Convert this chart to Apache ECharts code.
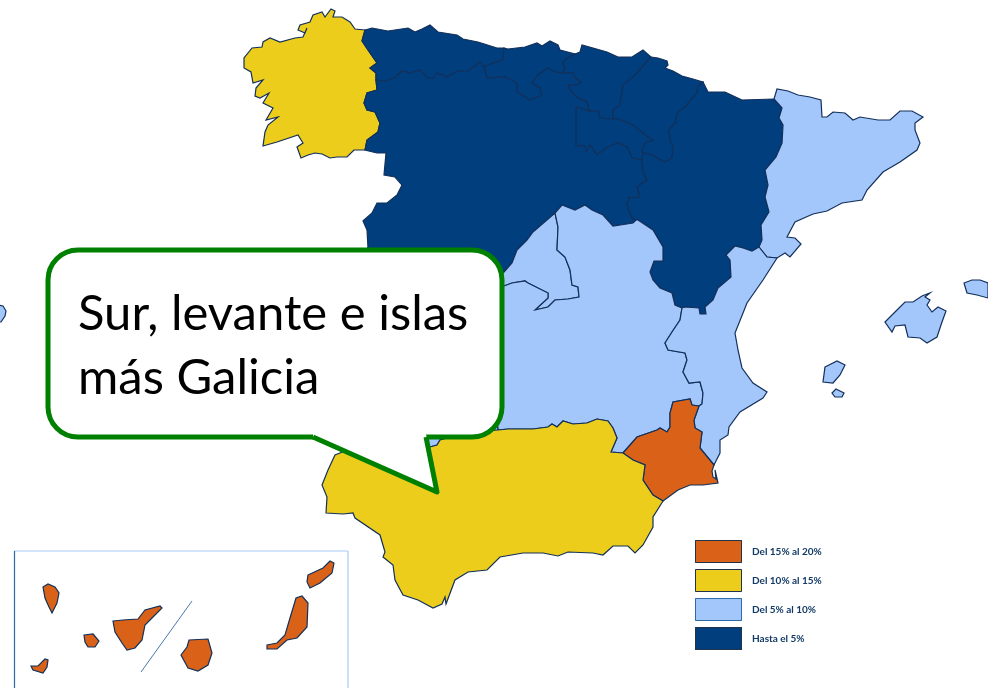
<!DOCTYPE html>
<html>
<head>
<meta charset="utf-8">
<style>
html,body{margin:0;padding:0;background:#fff}
#main{width:988px;height:688px}
</style>
<script src="https://cdn.jsdelivr.net/npm/echarts@6/dist/echarts.min.js"></script>
</head>
<body>
<div id="main"></div>
<script>
// tramos de rango y valor de cada comunidad
const bandLabels = ['Del 15% al 20%', 'Del 10% al 15%', 'Del 5% al 10%', 'Hasta el 5%'];
const bandValues = [4, 3, 2, 1];
const bandColors = ['#d96218', '#edcd1c', '#a3c6fb', '#003e7e'];
const regionNames = ['Galicia', 'Asturias', 'Cantabria', 'País Vasco', 'Navarra', 'La Rioja', 'Castilla y León', 'Aragón', 'Cataluña', 'Madrid', 'Castilla-La Mancha', 'Extremadura', 'C. Valenciana', 'Murcia', 'Andalucía', 'Baleares', 'Canarias', 'Otros'];
const regionBands = [3, 1, 1, 1, 1, 1, 1, 1, 2, 2, 2, 2, 2, 4, 3, 2, 4, 2];
const calloutLines = ['Sur, levante e islas', 'más Galicia'];

// contornos del mapa (tramos compartidos entre comunidades)
const galCoast = [[365,30],[355,29],[350,22],[342,17],[333,17],[335,11],[331,9],[325,17],[322,12],[313,15],[310,22],[300,25],[298,30],[305,33],[307,28],[303,37],[295,38],[280,42],[270,38],[263,42],[262,47],[252,48],[244,58],[244,68],[251,72],[253,83],[263,80],[256,88],[255,96],[260,98],[269,93],[263,103],[273,108],[266,120],[278,117],[268,125],[265,132],[263,146],[277,142],[298,135],[303,143],[297,147],[301,158],[308,155],[315,153],[322,154],[330,158],[337,157],[347,157],[354,150],[365,150]];
const galCyl = [[365,150],[367,140],[378,132],[380,123],[375,112],[367,110],[364,103],[367,93],[377,90],[376,80]];
const galAst = [[376,80],[376,73],[370,68],[377,63],[368,50],[362,41],[365,30]];
const astCoast = [[365,30],[372,28],[388,31],[408,28],[415,32],[422,29],[430,25],[438,32],[457,35],[463,39],[478,42],[497,48],[504,48]];
const astCan = [[504,48],[503,60],[490,64],[484,67]];
const astCyl = [[376,80],[385,81],[395,78],[402,71],[410,73],[420,70],[427,78],[433,78],[437,73],[447,77],[457,71],[467,72],[480,62],[484,67]];
const canCoast = [[504,48],[508,49],[525,47],[537,43],[542,46],[550,41],[558,45],[560,50],[575,54]];
const canPv = [[575,54],[565,60],[563,63],[565,67],[563,73]];
const canCyl = [[484,67],[487,78],[505,77],[517,83],[517,92],[530,100],[542,95],[540,88],[532,83],[538,75],[548,68],[555,72],[563,73]];
const pvCoast = [[575,54],[580,52],[582,45],[593,48],[607,52],[618,57],[632,57],[643,50],[651,57]];
const pvNav = [[651,57],[635,75],[623,85],[620,105],[613,110],[613,119]];
const pvCyl = [[563,73],[573,73],[575,78],[581,82],[577,85],[568,85],[570,90],[578,98],[587,102],[589,111]];
const pvRio = [[589,111],[598,111],[600,118],[613,119]];
const navCoast = [[651,57],[658,58],[667,61],[668,65],[665,68],[673,71],[682,76],[693,79],[703,82]];
const navAra = [[703,82],[698,87],[697,93],[685,107],[677,113],[676,122],[669,130],[670,140],[673,147],[672,158],[665,162],[657,158],[653,155],[643,153]];
const rioNav = [[613,119],[618,119],[633,125],[645,135],[653,140],[645,143],[642,150],[643,153]];
const rioAra = [[643,153],[642,160]];
const rioCyl = [[642,160],[632,158],[627,147],[618,143],[608,147],[597,155],[590,145],[586,152],[585,146],[576,146],[576,107],[578,107],[589,111]];
const cylAra = [[642,160],[643,172],[647,180],[637,187],[640,197],[629,198],[627,205],[632,218],[636,220]];
const cylClm = [[636,220],[633,223],[613,226],[603,215],[592,210],[585,205],[575,210],[562,205],[555,213]];
const cylMad = [[555,213],[533,232],[527,240],[517,250],[512,263],[504,272],[490,285]];
const cylExt = [[490,285],[470,275],[420,262],[385,262],[368,248]];
const cylWest = [[368,248],[367,230],[363,221],[372,213],[377,203],[387,203],[397,195],[402,185],[395,177],[384,175],[386,153],[377,153],[365,150]];
const madClm = [[555,213],[558,227],[557,250],[565,257],[570,270],[572,285],[578,287],[579,297],[568,299],[555,300],[548,307],[535,310],[548,298],[548,293],[528,283],[525,281],[512,283],[504,286],[490,285]];
const extClm = [[490,285],[488,350],[498,430]];
const extAnd = [[498,430],[470,432],[440,440],[437,445],[430,447]];
const extWest = [[430,447],[400,437],[380,400],[375,300],[368,248]];
const andWest = [[430,447],[400,452],[345,451],[335,455]];
const clmAnd = [[498,430],[508,429],[533,429],[548,427],[552,424],[557,427],[563,421],[573,424],[587,423],[597,419],[608,421],[613,428],[617,438],[611,452],[623,453]];
const clmMur = [[623,453],[637,437],[657,430],[660,428],[667,432],[670,427],[670,413],[673,402],[690,399],[692,405],[699,406]];
const clmVal = [[682,308],[680,320],[672,332],[665,343],[668,350],[685,353],[687,360],[683,372],[689,383],[700,382],[703,393],[702,404],[699,406]];
const araClm = [[636,220],[638,220],[653,230],[663,247],[663,261],[654,261],[650,272],[653,280],[660,288],[672,293],[675,305],[682,308]];
const araNorth = [[703,82],[708,92],[725,92],[742,100],[774,99]];
const araCat = [[774,99],[782,108],[779,118],[783,125],[782,143],[776,157],[765,170],[768,185],[765,197],[769,212],[761,225],[762,240],[759,247]];
const araVal = [[759,247],[752,251],[743,248],[735,246],[726,255],[730,260],[731,277],[718,288],[713,300],[705,307],[706,314],[700,314],[699,308],[685,307],[682,308]];
const catCoast = [[774,99],[777,89],[788,91],[798,95],[810,97],[821,100],[822,117],[827,117],[833,112],[845,113],[853,120],[860,117],[878,120],[890,120],[900,111],[912,111],[923,117],[915,123],[915,130],[920,143],[917,150],[900,162],[883,172],[867,190],[862,200],[842,203],[827,211],[813,214],[795,222],[787,237],[795,238],[801,244],[790,257],[785,253],[777,258]];
const catVal = [[777,258],[767,257],[759,247]];
const valCoast = [[777,258],[763,280],[747,303],[735,333],[738,350],[742,368],[753,383],[767,392],[763,398],[740,412],[729,427],[728,435],[720,440],[720,453],[714,465]];
const valMur = [[699,406],[694,420],[695,428],[702,432],[700,448],[714,465]];
const murCoast = [[714,465],[712,471],[713,477],[716,479],[715,470],[718,483],[703,485],[690,485],[678,490],[663,501]];
const murAnd = [[663,501],[653,495],[643,480],[645,465],[633,460],[623,453]];
const andCoast = [[663,501],[653,517],[653,527],[643,545],[635,553],[628,546],[613,546],[603,555],[593,553],[568,552],[558,556],[543,553],[523,553],[500,557],[487,570],[468,572],[455,580],[446,604],[445,597],[442,604],[433,608],[418,600],[403,595],[395,580],[393,565],[383,557],[385,552],[380,535],[355,518],[353,513],[343,514],[326,513],[327,497],[322,485],[328,470],[335,455]];
const mallorca = [[885,322],[895,312],[905,302],[913,302],[922,296],[930,293],[925,297],[930,300],[927,305],[932,312],[938,307],[946,311],[942,322],[937,337],[927,343],[920,338],[908,337],[905,325],[895,326],[892,332]];
const menorca = [[964,283],[972,280],[980,280],[988,283],[988,298],[977,295],[967,293]];
const ibiza = [[825,367],[837,361],[845,365],[840,375],[833,383],[823,382]];
const formentera = [[832,393],[836,389],[844,393],[842,397],[835,397]];
const laPalma = [[43,587],[48,584],[55,587],[59,593],[57,603],[52,613],[49,607],[45,598]];
const elHierro = [[31,666],[38,666],[45,659],[48,660],[47,667],[43,673],[33,670]];
const laGomera = [[84,635],[93,634],[99,641],[95,647],[88,647],[85,642]];
const tenerife = [[113,621],[123,620],[138,619],[145,610],[160,606],[162,608],[153,617],[145,625],[142,640],[135,648],[127,650],[122,643],[115,632]];
const granCanaria = [[189,640],[208,639],[212,653],[208,665],[198,671],[188,668],[181,655],[187,647]];
const fuerteventura = [[267,645],[277,643],[285,635],[290,618],[296,598],[302,596],[308,603],[307,627],[297,638],[287,640],[277,649],[267,649]];
const lanzarote = [[308,575],[323,568],[330,561],[334,563],[332,573],[320,583],[310,588],[307,582]];
const bordeIzq = [[-2,305],[3,306],[6,311],[5,316],[1,322],[-2,322]];

function rev(a) { return a.slice().reverse(); }
function ring() {
    let out = [];
    for (let i = 0; i < arguments.length; i++) {
        out = out.concat(arguments[i]);
    }
    out.push(out[0]);
    return out;
}
function closed(a) { return a.concat([a[0]]); }

const shapes = {
    'Galicia': [ring(galCoast, galCyl, galAst)],
    'Asturias': [ring(astCoast, astCan, rev(astCyl), galAst)],
    'Cantabria': [ring(canCoast, canPv, rev(canCyl), rev(astCan))],
    'País Vasco': [ring(pvCoast, pvNav, rev(pvRio), rev(pvCyl), rev(canPv))],
    'Navarra': [ring(navCoast, navAra, rev(rioNav), rev(pvNav))],
    'La Rioja': [ring(pvRio, rioNav, rioAra, rioCyl)],
    'Castilla y León': [ring(galCyl, astCyl, canCyl, pvCyl, rev(rioCyl), cylAra, cylClm, cylMad, cylExt, cylWest)],
    'Aragón': [ring(araNorth, araCat, araVal, rev(araClm), rev(cylAra), rev(rioAra), rev(navAra))],
    'Cataluña': [ring(catCoast, catVal, rev(araCat))],
    'Madrid': [ring(madClm, rev(cylMad))],
    'Castilla-La Mancha': [ring(cylClm, madClm, extClm, clmAnd, clmMur, rev(clmVal), rev(araClm))],
    'Extremadura': [ring(rev(cylExt), extClm, extAnd, extWest)],
    'C. Valenciana': [ring(rev(catVal), valCoast, rev(valMur), rev(clmVal), rev(araVal))],
    'Murcia': [ring(clmMur, valMur, murCoast, murAnd)],
    'Andalucía': [ring(clmAnd, rev(murAnd), andCoast, rev(andWest), rev(extAnd))],
    'Baleares': [closed(mallorca), closed(menorca), closed(ibiza), closed(formentera)],
    'Canarias': [closed(laPalma), closed(elHierro), closed(laGomera), closed(tenerife), closed(granCanaria), closed(fuerteventura), closed(lanzarote)],
    'Otros': [closed(bordeIzq)]
};

const espana = {
    type: 'FeatureCollection',
    features: regionNames.map(function (name) {
        return {
            type: 'Feature',
            properties: { name: name },
            geometry: { type: 'MultiPolygon', coordinates: shapes[name].map(function (r) { return [r]; }) }
        };
    })
};
echarts.registerMap('espana', espana);

const myChart = echarts.init(document.getElementById('main'));

// marcos de la leyenda, encima de los cuadros del visualMap
const swatchFrames = bandLabels.map(function (label, i) {
    return {
        type: 'rect',
        z: 10,
        shape: { x: 695.5, y: 540.5 + i * 29, width: 46, height: 22 },
        style: { fill: 'none', stroke: i === 2 ? '#2f6aa8' : '#22324a', lineWidth: 1 }
    };
});

const option = {
    animation: false,
    backgroundColor: '#fff',
    visualMap: {
        type: 'piecewise',
        left: 695,
        top: 540,
        padding: 0,
        orient: 'vertical',
        align: 'left',
        itemWidth: 47,
        itemHeight: 23,
        itemGap: 6,
        textGap: 10,
        itemSymbol: 'rect',
        selectedMode: false,
        hoverLink: false,
        pieces: bandValues.map(function (v, i) {
            return { value: v, label: bandLabels[i], color: bandColors[i] };
        }),
        textStyle: { color: '#123a66', fontSize: 10, fontWeight: 'bold', fontFamily: 'Lato' }
    },
    series: [
        {
            type: 'map',
            map: 'espana',
            silent: true,
            roam: false,
            aspectScale: 1,
            left: 0,
            top: 0,
            width: 988,
            height: 688,
            boundingCoords: [[0, 0], [988, 688]],
            projection: {
                project: function (p) { return p; },
                unproject: function (p) { return p; }
            },
            label: { show: false },
            itemStyle: { borderColor: '#12305a', borderWidth: 1.2 },
            data: regionNames.map(function (name, i) {
                return { name: name, value: regionBands[i] };
            })
        }
    ],
    graphic: swatchFrames.concat([
        // recuadro de Canarias
        { type: 'line', z: 10, shape: { x1: 14, y1: 551, x2: 348, y2: 551 }, style: { stroke: '#a9c9f5', lineWidth: 1.2 } },
        { type: 'line', z: 10, shape: { x1: 348, y1: 551, x2: 348, y2: 688 }, style: { stroke: '#a9c9f5', lineWidth: 1.2 } },
        { type: 'line', z: 10, shape: { x1: 14.5, y1: 551, x2: 14.5, y2: 688 }, style: { stroke: '#2f6aa8', lineWidth: 1.2 } },
        { type: 'line', z: 10, shape: { x1: 192, y1: 601, x2: 141, y2: 672 }, style: { stroke: '#4a78ab', lineWidth: 1 } },
        // bocadillo
        { type: 'rect', z: 20, shape: { x: 48, y: 250, width: 454, height: 187, r: 30 }, style: { fill: '#fff', stroke: '#008000', lineWidth: 5 } },
        { type: 'polygon', z: 21, shape: { points: [[313, 434], [426, 434], [437, 492], [313, 437]] }, style: { fill: '#fff' } },
        { type: 'polyline', z: 22, shape: { points: [[313, 437], [437, 492], [426, 437]] }, style: { fill: 'none', stroke: '#008000', lineWidth: 5, lineJoin: 'round' } },
        { type: 'text', z: 23, left: 78, top: 290, style: { text: calloutLines[0], fill: '#000', font: '49px Lato' } },
        { type: 'text', z: 23, left: 78, top: 354, style: { text: calloutLines[1], fill: '#000', font: '49px Lato' } }
    ])
};
myChart.setOption(option);
window.addEventListener('resize', function () {
    myChart.resize();
});
</script>
</body>
</html>
